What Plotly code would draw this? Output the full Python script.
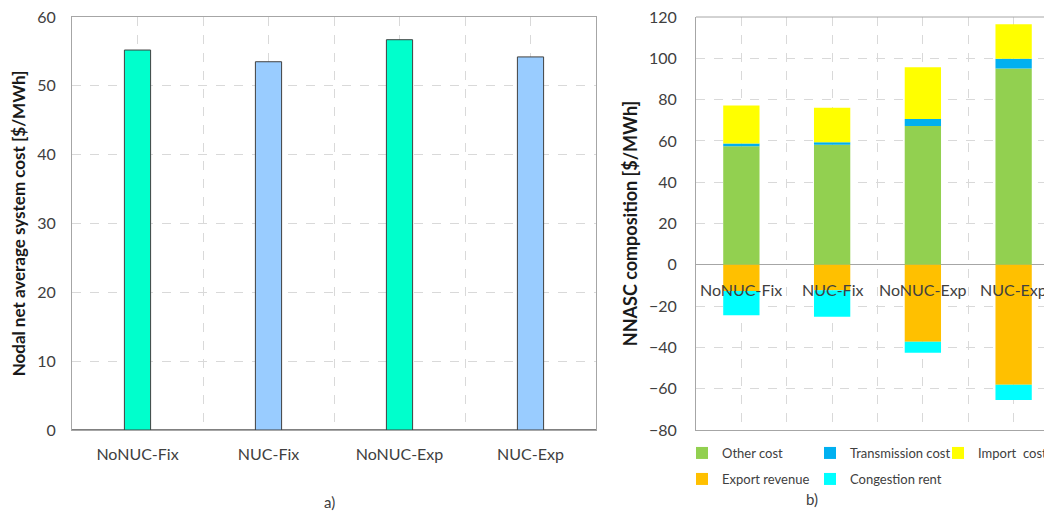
import plotly.graph_objects as go

W, H = 1052, 522
OFF = 8  # page body margin: paper origin sits at (8, 8) in the window

# ---- data ----
categories = ["NoNUC-Fix", "NUC-Fix", "NoNUC-Exp", "NUC-Exp"]
nnasc_total = [55.2, 53.5, 56.7, 54.2]
total_colors = ["#00FFCC", "#99CCFF", "#00FFCC", "#99CCFF"]

other_cost = [57.4, 58.1, 67.2, 95.1]
transmission_cost = [1.4, 1.2, 3.4, 4.7]
import_cost = [18.3, 16.8, 25.1, 16.7]
export_revenue = [-12.7, -12.3, -37.3, -58.1]
congestion_rent = [-11.7, -12.9, -5.3, -7.4]

left_yticks = [0, 10, 20, 30, 40, 50, 60]
right_yticks = [-80, -60, -40, -20, 0, 20, 40, 60, 80, 100, 120]

FONT = "Lato, Open Sans, sans-serif"
TXT = "#404040"
GRID = "#D9D9D9"
LINE = "#A6A6A6"

xpos = list(range(len(categories)))
bounds = [i - 0.5 for i in range(len(categories) + 1)]

def px_x(p):
    return (p - OFF) / W

def px_y(p):
    return (H - (p - OFF)) / H

fig = go.Figure()

# ---- panel a ----
fig.add_trace(go.Bar(
    x=xpos, y=nnasc_total, width=0.2,
    marker=dict(color=total_colors, line=dict(color="#404040", width=1)),
    xaxis="x", yaxis="y", showlegend=False,
))

# ---- panel b ----  (name, values, colour, legend id, legend marker centre px (x, y))
stack = [
    ("Other cost", other_cost, "#92D050", "legend", (707, 453)),
    ("Transmission cost", transmission_cost, "#00B0F0", "legend2", (835, 453)),
    ("Import  cost", import_cost, "#FFFF00", "legend3", (963, 453)),
    ("Export revenue", export_revenue, "#FFC000", "legend4", (707, 479)),
    ("Congestion rent", congestion_rent, "#00FFFF", "legend5", (835, 479)),
]
legend_layout = {}
for name, vals, col, lg, (lx, ly) in stack:
    fig.add_trace(go.Bar(
        x=xpos, y=vals, width=0.4, name=name,
        marker=dict(color=col, line=dict(width=0)),
        xaxis="x2", yaxis="y2", legend=lg,
    ))
    legend_layout[lg] = dict(
        orientation="h", x=px_x(lx - 25), xanchor="left", y=px_y(ly), yanchor="middle",
        font=dict(family=FONT, size=13, color=TXT), bgcolor="rgba(0,0,0,0)",
    )

xa_common = dict(
    tickvals=xpos, showgrid=True, gridcolor=GRID, griddash="dash", gridwidth=1,
    minor=dict(tickvals=bounds, showgrid=True, gridcolor=GRID, griddash="dash", gridwidth=1),
    ticks="", showline=True, linecolor=LINE, linewidth=1, mirror=True,
    zeroline=False, automargin=False, tickfont=dict(family=FONT, size=16, color=TXT),
)

fig.update_layout(
    width=W, height=H,
    margin=dict(l=0, r=0, t=0, b=0, autoexpand=False),
    paper_bgcolor="white", plot_bgcolor="white",
    barmode="relative",
    font=dict(family=FONT, color=TXT),
    xaxis=dict(xa_common, domain=[px_x(72), px_x(596)], range=[-0.5, 3.5],
               ticktext=categories, ticklabelstandoff=10, anchor="y"),
    yaxis=dict(domain=[px_y(430), px_y(17)], range=[0, 60], tickvals=left_yticks,
               showgrid=True, gridcolor=GRID, griddash="dash",
               showline=True, linecolor=LINE, mirror=True, automargin=False,
               zeroline=True, zerolinecolor="#808080", zerolinewidth=1.5,
               ticks="", ticklabelstandoff=12, ticklabeloverflow="allow",
               tickfont=dict(family=FONT, size=16, color=TXT),
               title=dict(text="<b>Nodal net average system cost [$/MWh]</b>",
                          font=dict(family=FONT, size=17, color="#1a1a1a"), standoff=10),
               anchor="x"),
    xaxis2=dict(xa_common, domain=[px_x(696), px_x(1059)], range=[-0.5, 3.5],
                showticklabels=False, mirror=False, anchor="y2"),
    yaxis2=dict(domain=[px_y(430), px_y(17)], range=[-80, 120], tickvals=right_yticks,
                showgrid=True, gridcolor=GRID, griddash="dash",
                showline=True, linecolor=LINE, mirror=False, automargin=False,
                zeroline=True, zerolinecolor=LINE, zerolinewidth=1,
                ticks="", ticklabelstandoff=15, ticklabeloverflow="allow",
                tickfont=dict(family=FONT, size=16, color=TXT),
                title=dict(text="<b>NNASC composition [$/MWh]</b>",
                           font=dict(family=FONT, size=18, color="#1a1a1a"), standoff=6),
                anchor="x2"),
    **legend_layout,
)

# top border of panel b
fig.add_shape(type="line", xref="x2 domain", yref="y2 domain", x0=0, x1=1, y0=1, y1=1,
              line=dict(color=LINE, width=1))

# category labels of panel b, placed at the zero line
for i, c in enumerate(categories):
    fig.add_annotation(x=i, y=0, xref="x2", yref="y2", text=c, showarrow=False,
                       yanchor="middle", yshift=-25,
                       font=dict(family=FONT, size=16, color=TXT))

# captions
fig.add_annotation(x=px_x(322), y=px_y(513), xref="paper", yref="paper", text="a)",
                   showarrow=False, font=dict(family=FONT, size=15, color=TXT))
fig.add_annotation(x=px_x(820), y=px_y(510), xref="paper", yref="paper", text="b)",
                   showarrow=False, font=dict(family=FONT, size=15, color=TXT))

fig.write_html("out.html")
